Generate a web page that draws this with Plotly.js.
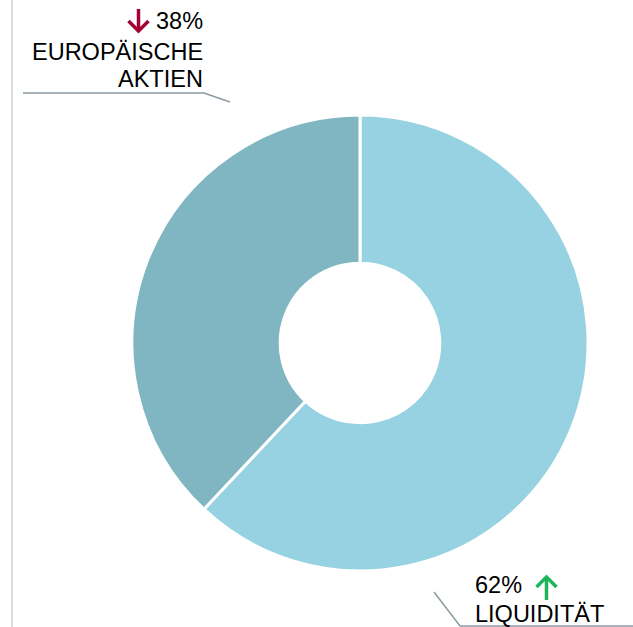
<!DOCTYPE html>
<html>
<head>
<meta charset="utf-8">
<script src="https://cdn.plot.ly/plotly-3.0.1.min.js"></script>
<style>html,body{margin:0;padding:0;background:#fff;}#chart{width:633px;height:627px;}</style>
</head>
<body>
<div id="chart"></div>
<script>
const labels = ["LIQUIDITÄT", "EUROPÄISCHE AKTIEN"];
const values = [62, 38];
const colors = ["#96D2E1", "#80B5C2"];
const trendColors = ["#1DB45A", "#A50034"];

const W = 633, H = 627;
const px = x => x / W;
const py = y => 1 - y / H;

const data = [{
  type: 'pie',
  labels: labels,
  values: values,
  marker: {colors: colors, line: {color: '#ffffff', width: 3}},
  hole: 0.35,
  sort: false,
  direction: 'clockwise',
  rotation: 0,
  textinfo: 'none',
  hoverinfo: 'label+percent',
  showlegend: false,
  domain: {x: [px(132), px(588)], y: [py(571), py(115)]}
}];

function line(text, x, yTop, anchor) {
  return {xref: 'paper', yref: 'paper', x: px(x), y: py(yTop), xanchor: anchor, yanchor: 'top',
          showarrow: false, text: text, font: {size: 23.5}, borderpad: 0};
}
function arrowShapes(cx, yTip, yTail, color) {
  const dir = yTail > yTip ? 1 : -1;
  const head = 10;
  return [
    {type: 'path', xref: 'paper', yref: 'paper',
     path: `M ${px(cx)},${py(yTail)} L ${px(cx)},${py(yTip + dir * 1)}`,
     line: {color: color, width: 3.5}},
    {type: 'path', xref: 'paper', yref: 'paper',
     path: `M ${px(cx - head)},${py(yTip + dir * head)} L ${px(cx)},${py(yTip)} L ${px(cx + head)},${py(yTip + dir * head)}`,
     line: {color: color, width: 3.5}}
  ];
}

const layout = {
  width: W, height: H,
  margin: {l: 0, r: 0, t: 0, b: 0},
  paper_bgcolor: '#ffffff',
  font: {family: 'Liberation Sans, Arial, sans-serif', size: 23.5, color: '#000000'},
  shapes: [
    {type: 'line', xref: 'paper', yref: 'paper', x0: px(12), x1: px(12), y0: 0, y1: 1,
     line: {color: '#DCDCDC', width: 2}},
    {type: 'path', xref: 'paper', yref: 'paper',
     path: `M ${px(23)},${py(93)} L ${px(204)},${py(93)} L ${px(230)},${py(102)}`,
     line: {color: '#8A9BA1', width: 1.5}},
    {type: 'path', xref: 'paper', yref: 'paper',
     path: `M ${px(434)},${py(592)} L ${px(460)},${py(626)} L ${px(633)},${py(626)}`,
     line: {color: '#8A9BA1', width: 1.5}},
    ...arrowShapes(138.5, 31, 9, trendColors[1]),
    ...arrowShapes(546.5, 577, 600, trendColors[0])
  ],
  annotations: [
    line(Math.round(values[1]) + '%', 204, 6.6, 'right'),
    line('EUROPÄISCHE', 204, 37.6, 'right'),
    line('AKTIEN', 204, 64.6, 'right'),
    line(Math.round(values[0]) + '%', 474, 571, 'left'),
    line(labels[0], 474, 600, 'left')
  ]
};

Plotly.newPlot('chart', data, layout, {displayModeBar: false, staticPlot: true});
</script>
</body>
</html>
